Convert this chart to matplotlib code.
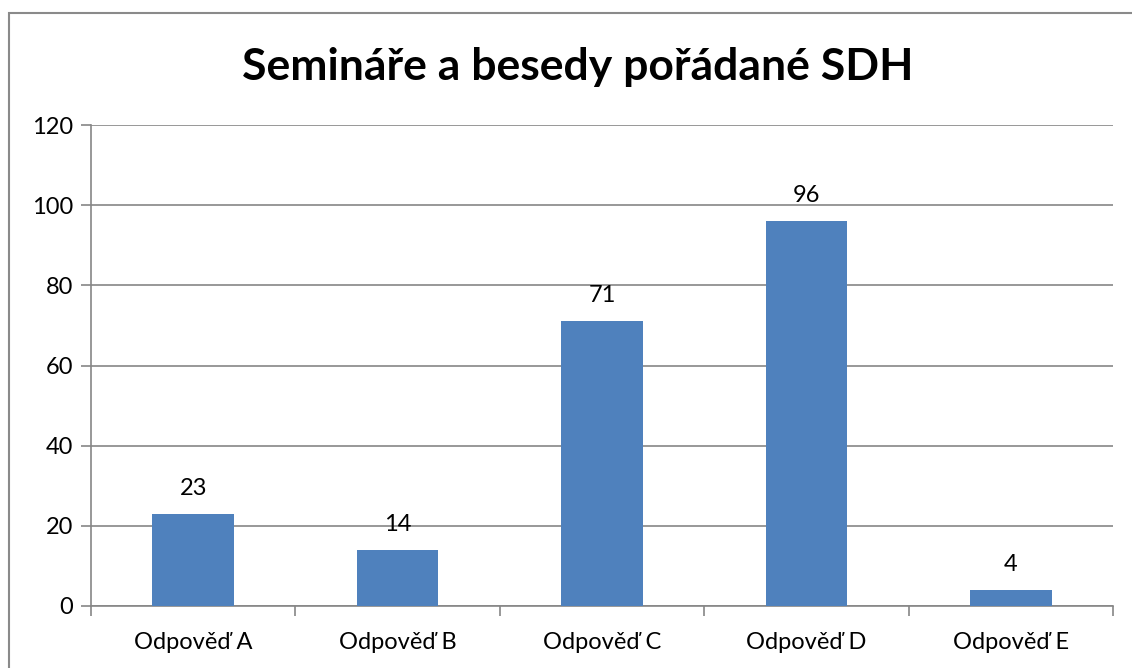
import matplotlib
matplotlib.use("Agg")
import matplotlib.pyplot as plt
from matplotlib.patches import Rectangle
import numpy as np

categories = ["Odpověď A", "Odpověď B", "Odpověď C", "Odpověď D", "Odpověď E"]
values = [23, 14, 71, 96, 4]
yticks = [0, 20, 40, 60, 80, 100, 120]
title = "Semináře a besedy pořádané SDH"

plt.rcParams['font.family'] = ['Lato', 'DejaVu Sans']

W, H = 1132, 668
fig = plt.figure(figsize=(W / 100, H / 100), dpi=100)
fig.patch.set_facecolor("white")

ax = fig.add_axes([91 / W, 1 - 606 / H, (1113 - 91) / W, (606 - 125) / H])

grid_c = "#868686"
x = np.arange(len(categories))
ax.bar(x, values, width=0.4, color="#4F81BD", zorder=3)
for xi, v in zip(x, values):
    ax.annotate(str(v), (xi, v), xytext=(0, 11), textcoords="offset points",
                ha="center", va="bottom", fontsize=17, color="black")

ax.set_xlim(-0.5, len(categories) - 0.5)
ax.set_ylim(0, 120)
ax.set_yticks(yticks)
ax.set_yticklabels([str(t) for t in yticks], fontsize=17)
ax.yaxis.grid(True, color=grid_c, linewidth=1.2, zorder=0)
ax.set_axisbelow(True)

ax.set_xticks(x)
ax.set_xticklabels(categories, fontsize=17)
ax.tick_params(axis="x", length=0, pad=19)
ax.set_xticks(np.arange(-0.5, len(categories)), minor=True)
ax.tick_params(axis="x", which="minor", length=7, color=grid_c, width=1.2)
ax.tick_params(axis="y", length=7, color=grid_c, width=1.2, pad=6)

for s in ["top", "right"]:
    ax.spines[s].set_visible(False)
for s in ["left", "bottom"]:
    ax.spines[s].set_color(grid_c)
    ax.spines[s].set_linewidth(1.2)

fig.text(578 / W, 1 - 67 / H, title, ha="center", va="center",
         fontsize=32, fontweight="bold", color="black")

fig.patches.append(Rectangle((8.5 / W, -0.05), 1.1, 0.05 + 1 - 12.5 / H,
                             transform=fig.transFigure, fill=False,
                             edgecolor="#8a8a8a", linewidth=1.5))

fig.savefig("out.png", dpi=100, facecolor="white")
